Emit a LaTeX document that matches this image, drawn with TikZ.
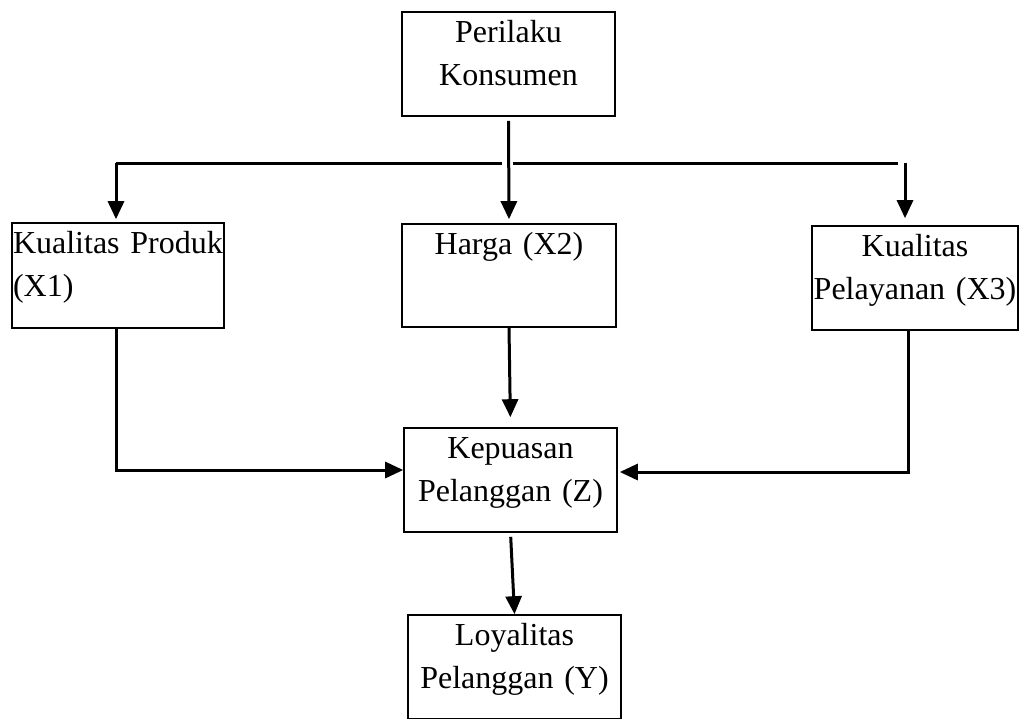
\documentclass[tikz,border=0pt]{standalone}
\usepackage{fontspec}
\setmainfont{Liberation Serif}
\usetikzlibrary{arrows.meta,positioning}
\tikzset{
    %Define standard arrow tip
    >={Triangle[length=9pt,width=8pt]},
    %Define style for boxes
    kotak/.style={
           rectangle,
           draw=black, line width=0.8pt,
           inner xsep=0.5pt, inner ysep=0pt,
           font=\fontsize{16}{21.5}\selectfont,
           align=center,
           text height=15pt},
    % Define arrow style
    panah/.style={
           ->,
           line width=1.5pt},
    garis/.style={
           line width=1.5pt}
}
\begin{document}
\begin{tikzpicture}[x=0.5pt,y=-0.5pt]
\useasboundingbox (0,0) rectangle (1020,718);
 %nodes
\node[kotak, text width=105.5pt, text depth=37pt](perilaku) at (508.5,64) {Perilaku\\Konsumen};
\node[kotak, align=left, text width=105pt, text depth=37.5pt](x1) at (118,275.5) {\mbox{Kualitas Produk}\\(X1)};
\node[kotak, text width=106pt, text depth=36.5pt](x2) at (509,275.5) {Harga (X2)};
\node[kotak, text width=102pt, text depth=37pt](x3) at (915,278) {Kualitas\\\mbox{Pelayanan (X3)}};
\node[kotak, text width=105.5pt, text depth=37pt](z) at (510.5,480) {Kepuasan\\Pelanggan (Z)};
\node[kotak, text width=105.5pt, text depth=37pt](y) at (514.5,667) {Loyalitas\\Pelanggan (Y)};
 %branch line
\coordinate (cabangkiri) at (116,163);
\coordinate (potongkiri) at (502,163);
\coordinate (potongkanan) at (513,163);
\coordinate (ujungkanan) at (898,163);
\coordinate (cabangkanan) at (905,163);
\draw[garis] (cabangkiri) -- (potongkiri);
\draw[garis] (potongkanan) -- (ujungkanan);
 %arrows
\draw[panah, shorten >=1.5pt] (cabangkiri) -- (cabangkiri |- x1.north);
\draw[panah, shorten >=3.5pt] (cabangkanan) -- (cabangkanan |- x3.north);
\draw[panah, shorten <=2pt, shorten >=2pt] (perilaku.south) -- (x2.north);
\draw[panah] (x1.south -| cabangkiri) |- ([yshift=5pt]z.west);
\draw[panah, shorten >=1pt] ([xshift=-3.5pt]x3.south) |- ([yshift=4pt]z.east);
\draw[panah, shorten >=5pt] (x2.south) -- (z.north);
\draw[panah, shorten <=2pt] (z.south) -- (y.north);
\end{tikzpicture}
\end{document}
